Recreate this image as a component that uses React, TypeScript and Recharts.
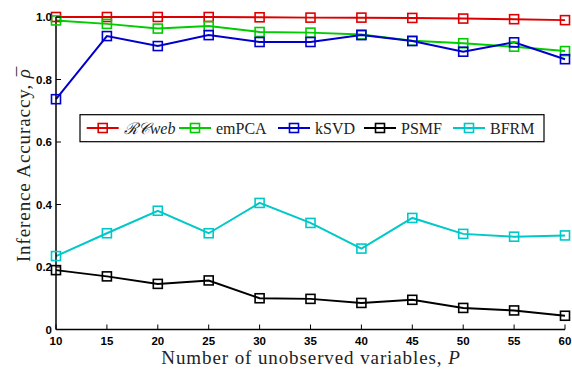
import React from 'react';
import { LineChart, Line, XAxis, YAxis } from 'recharts';

const pValues = [10, 15, 20, 25, 30, 35, 40, 45, 50, 55, 60];
const rcweb = [1.0, 1.0, 1.0, 1.0, 0.999, 0.998, 0.998, 0.997, 0.995, 0.993, 0.99];
const empca = [0.989, 0.978, 0.963, 0.971, 0.952, 0.95, 0.944, 0.924, 0.916, 0.905, 0.891];
const ksvd = [0.737, 0.939, 0.907, 0.942, 0.92, 0.92, 0.942, 0.923, 0.889, 0.919, 0.865];
const psmf = [0.19, 0.17, 0.146, 0.157, 0.1, 0.098, 0.085, 0.095, 0.069, 0.061, 0.044];
const bfrm = [0.235, 0.308, 0.38, 0.308, 0.405, 0.341, 0.259, 0.357, 0.306, 0.297, 0.301];

const yTicks = [0, 0.2, 0.4, 0.6, 0.8, 1.0];
const yTickLabels = ['0', '0.2', '0.4', '0.6', '0.8', '1.0'];
const xTicks = pValues;

const data = pValues.map((p, i) => ({
  p,
  rcweb: rcweb[i],
  empca: empca[i],
  ksvd: ksvd[i],
  psmf: psmf[i],
  bfrm: bfrm[i],
}));

const series = [
  { key: 'rcweb', color: '#dd0000' },
  { key: 'empca', color: '#00cc00' },
  { key: 'ksvd', color: '#0000cc' },
  { key: 'psmf', color: '#000000' },
  { key: 'bfrm', color: '#00c8c8' },
];

const W = 572;
const H = 369;
const L = 56;
const R = 565;
const T = 17;
const B = 329.5;
const TICK = 5;
const tickFont = '"Liberation Sans", Arial, sans-serif';
const serif = '"Liberation Serif", "Times New Roman", serif';

const Square = (color: string) => (props: any) => {
  const { cx, cy } = props;
  if (cx == null || cy == null) return null;
  return <rect x={cx - 4.5} y={cy - 4.5} width={9} height={9} fill="none" stroke={color} strokeWidth={1.6} />;
};

const LeftTick = (props: any) => {
  const { y, payload } = props;
  const idx = yTicks.indexOf(payload.value);
  return (
    <g>
      <line x1={L} x2={L + TICK} y1={y} y2={y} stroke="#000" strokeWidth={1} />
      <text x={L - 4} y={y + 4} textAnchor="end" fontFamily={tickFont} fontWeight="bold" fontSize={11.5} fill="#000">
        {idx >= 0 ? yTickLabels[idx] : payload.value}
      </text>
    </g>
  );
};

const RightTick = (props: any) => {
  const { y } = props;
  return <line x1={R} x2={R - TICK} y1={y} y2={y} stroke="#000" strokeWidth={1} />;
};

const BottomTick = (props: any) => {
  const { x, payload } = props;
  return (
    <g>
      <line x1={x} x2={x} y1={B} y2={B - TICK} stroke="#000" strokeWidth={1} />
      <text x={x} y={344.5} textAnchor="middle" fontFamily={tickFont} fontWeight="bold" fontSize={11.5} fill="#000">
        {payload.value}
      </text>
    </g>
  );
};

const TopTick = (props: any) => {
  const { x } = props;
  return <line x1={x} x2={x} y1={T} y2={T + TICK} stroke="#000" strokeWidth={1} />;
};

const legendItems = [
  { key: 'rcweb', color: '#dd0000', x: 86.7 },
  { key: 'empca', color: '#00cc00', x: 179 },
  { key: 'ksvd', color: '#0000cc', x: 278 },
  { key: 'psmf', color: '#000000', x: 364 },
  { key: 'bfrm', color: '#00c8c8', x: 453 },
];
const legendLabels: Record<string, React.ReactNode> = {
  rcweb: (
    <tspan fontStyle="italic">
      <tspan>ℛ𝒞</tspan>
      <tspan>web</tspan>
    </tspan>
  ),
  empca: 'emPCA',
  ksvd: 'kSVD',
  psmf: 'PSMF',
  bfrm: 'BFRM',
};

export default function App() {
  return (
    <div style={{ position: 'absolute', left: 0, top: 0, width: W, height: H, background: '#fff' }}>
      <LineChart
        width={W}
        height={H}
        data={data}
        margin={{ top: T, right: W - R, bottom: H - B - 30, left: L - 40 }}
      >
        <XAxis
          dataKey="p"
          type="number"
          domain={[10, 60]}
          ticks={xTicks}
          height={30}
          tickLine={false}
          tickSize={0}
          tick={<BottomTick />}
          axisLine={{ stroke: '#000', strokeWidth: 1.5 }}
          interval={0}
        />
        <XAxis
          xAxisId="top"
          dataKey="p"
          type="number"
          orientation="top"
          domain={[10, 60]}
          ticks={xTicks}
          height={0}
          tickLine={false}
          tickSize={0}
          tick={<TopTick />}
          axisLine={{ stroke: '#000', strokeWidth: 1.5 }}
          interval={0}
        />
        <YAxis
          type="number"
          domain={[0, 1]}
          ticks={yTicks}
          width={40}
          tickLine={false}
          tickSize={0}
          tick={<LeftTick />}
          axisLine={{ stroke: '#000', strokeWidth: 1.5 }}
          interval={0}
        />
        <YAxis
          yAxisId="right"
          orientation="right"
          type="number"
          domain={[0, 1]}
          ticks={yTicks}
          width={0}
          tickLine={false}
          tickSize={0}
          tick={<RightTick />}
          axisLine={{ stroke: '#000', strokeWidth: 1.5 }}
          interval={0}
        />
        {series.map((s) => (
          <Line
            key={s.key}
            dataKey={s.key}
            type="linear"
            stroke={s.color}
            strokeWidth={2}
            dot={Square(s.color)}
            activeDot={false}
            isAnimationActive={false}
          />
        ))}
        <text
          x={311}
          y={363.5}
          textAnchor="middle"
          fontFamily={serif}
          fontSize={19}
          letterSpacing={0.9}
          fill="#222"
        >
          Number of unobserved variables, <tspan fontStyle="italic">P</tspan>
        </text>
        <text
          x={0}
          y={0}
          transform="translate(30, 164) rotate(-90)"
          textAnchor="middle"
          fontFamily={serif}
          fontSize={19}
          letterSpacing={0.9}
          fill="#222"
        >
          Inference Accuraccy, <tspan fontStyle="italic">ρ</tspan>
          <tspan dx={-8}>¯</tspan>
        </text>
      </LineChart>
      <svg
        style={{ position: 'absolute', left: 0, top: 0, pointerEvents: 'none' }}
        width={W}
        height={H}
      >
        <rect x={80} y={114.7} width={464} height={27} fill="#fff" stroke="#000" strokeWidth={1.2} />
        {legendItems.map((it) => (
          <g key={it.key}>
            <line x1={it.x} x2={it.x + 32} y1={128} y2={128} stroke={it.color} strokeWidth={2} />
            <rect x={it.x + 16 - 4.5} y={128 - 4.5} width={9} height={9} fill="none" stroke={it.color} strokeWidth={1.6} />
            <text x={it.x + 37} y={133.5} fontFamily={serif} fontSize={16} fill="#222">
              {legendLabels[it.key]}
            </text>
          </g>
        ))}
      </svg>
    </div>
  );
}
